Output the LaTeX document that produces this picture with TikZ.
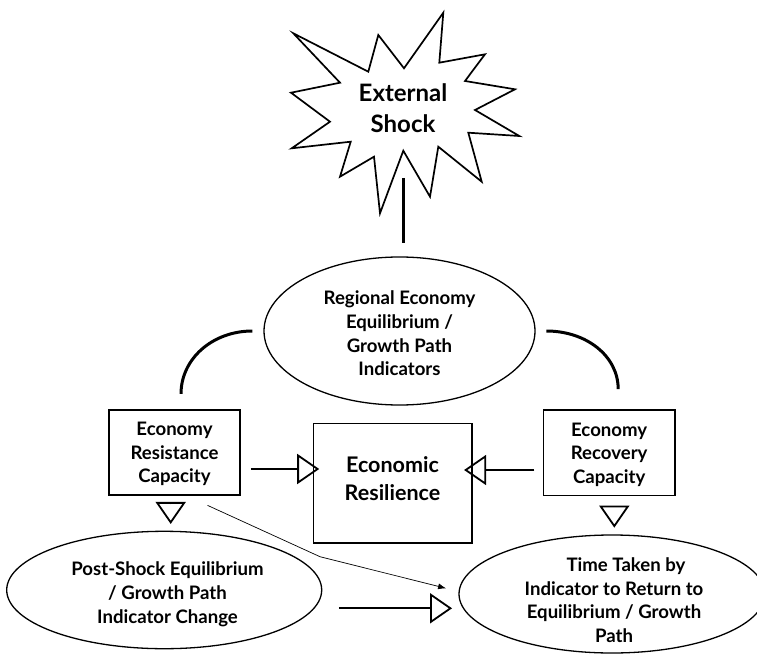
\documentclass[tikz,border=0pt]{standalone}
\usepackage{fontspec}
\setmainfont{Lato}
\usetikzlibrary{arrows.meta,shapes.geometric}

\tikzset{
  txt/.style={font=\fontsize{18.6}{23.7}\selectfont\bfseries, align=center, inner sep=0pt},
  bigtxt/.style={font=\fontsize{21.5}{27.7}\selectfont\bfseries, align=center, inner sep=0pt},
  boxnode/.style={draw, line width=1.6pt, rectangle, inner sep=0pt},
  ovalnode/.style={draw, line width=1.3pt, ellipse, inner sep=0pt},
  openhead/.style={line width=1.8pt, -{Triangle[open, length=22pt, width=30pt]}},
  thinhead/.style={line width=0.7pt, -{Latex[length=8pt, width=6pt]}},
  heavy/.style={line width=3pt}
}

\begin{document}
\begin{tikzpicture}[x=1pt, y=-1pt]
\useasboundingbox (0,0) rectangle (757,655);
\fill[white] (0,0) rectangle (757,655);

% starburst outline
\draw[line width=1.7pt, line join=miter, fill=white]
  (293.3,33.3) -- (368.3,71.7) -- (378.3,35) -- (404,68.3) -- (443.3,12.7)
  -- (439.3,62.7) -- (485,54.3) -- (465,81) -- (515,89.3) -- (475,110)
  -- (519.3,136) -- (468.3,132.7) -- (481.7,181.7) -- (438.3,146.7)
  -- (430,196.7) -- (403.3,150.7) -- (380,213.3) -- (374,156.7)
  -- (340,176.7) -- (350.7,141.7) -- (291.7,148.3) -- (330,121.7)
  -- (291,92.7) -- (340,82.7) -- cycle;
\node[font=\fontsize{24}{31.6}\selectfont\bfseries, align=center, inner sep=0pt]
  (shock) at (403,108) {External\\Shock};

% main nodes
\node[ovalnode, minimum width=271pt, minimum height=148pt] (reg) at (399.5,331) {};
\node[txt] (regtxt) at (399.5,333.5) {Regional Economy\\Equilibrium /\\Growth Path\\Indicators};

\node[boxnode, minimum width=131pt, minimum height=85.5pt] (res) at (174.5,452.5) {};
\node[txt] (restxt) at (174.5,454) {Economy\\Resistance\\Capacity};

\node[boxnode, minimum width=131.7pt, minimum height=85.7pt] (rec) at (609.2,452.8) {};
\node[txt] (rectxt) at (609.2,454.8) {Economy\\Recovery\\Capacity};

\node[boxnode, minimum width=158.4pt, minimum height=119.4pt] (er) at (392.5,483) {};
\node[bigtxt] (ertxt) at (392.5,478.5) {Economic\\Resilience};

\node[ovalnode, minimum width=315pt, minimum height=117.4pt] (post) at (164.2,590) {};
\node[txt] (posttxt) at (167.5,594.3) {Post-Shock Equilibrium\\/ Growth Path\\Indicator Change};

\node[ovalnode, minimum width=306pt, minimum height=118pt] (time) at (612,594) {};
\node[txt] (timetxt) at (614,600.3) {\hspace*{24pt}Time Taken by\\Indicator to Return to\\Equilibrium / Growth\\Path};

% free ends of the plain links
\coordinate (stemtop) at (403,178);
\coordinate (stembot) at (403,243);
\coordinate (la) at ([xshift=-11pt]reg.west);
\coordinate (lb) at ([xshift=6.5pt, yshift=15pt]res.north);
\coordinate (ra) at ([xshift=10.7pt]reg.east);
\coordinate (rb) at ([xshift=9pt, yshift=20pt]rec.north);
\coordinate (bend) at (320,556.7);

% plain links
\draw[heavy] (stemtop) -- (stembot);
\draw[heavy] (la) .. controls ([xshift=-39.7pt]la) and ([yshift=35.3pt]lb) .. (lb);
\draw[heavy] (ra) .. controls ([xshift=40.1pt]ra) and ([yshift=33.1pt]rb) .. (rb);

% arrows
\draw[openhead, shorten <=10pt, shorten >=-6.7pt]
  ([yshift=-16.5pt]res.east) -- ([yshift=14pt]er.west);
\draw[openhead, shorten <=8.3pt, shorten >=-8.4pt]
  ([yshift=-17.2pt]rec.west) -- ([yshift=13pt]er.east);
\draw[openhead, shorten <=8.3pt, shorten >=6.7pt]
  ([xshift=-3.8pt]res.south) -- ([xshift=6.5pt]post.north);
\draw[openhead, shorten <=10.3pt, shorten >=6.7pt]
  ([xshift=5.1pt]rec.south) -- ([xshift=2.3pt]time.north);
\draw[openhead, shorten <=16.6pt, shorten >=6.3pt]
  ([yshift=-18.3pt]post.east) -- ([yshift=-14.3pt]time.west);
\draw[thinhead] ([shift={(-33.3pt,-9.3pt)}]res.south east) -- (bend)
  -- ([shift={(-12.3pt,5.7pt)}]time.west);
\end{tikzpicture}
\end{document}
